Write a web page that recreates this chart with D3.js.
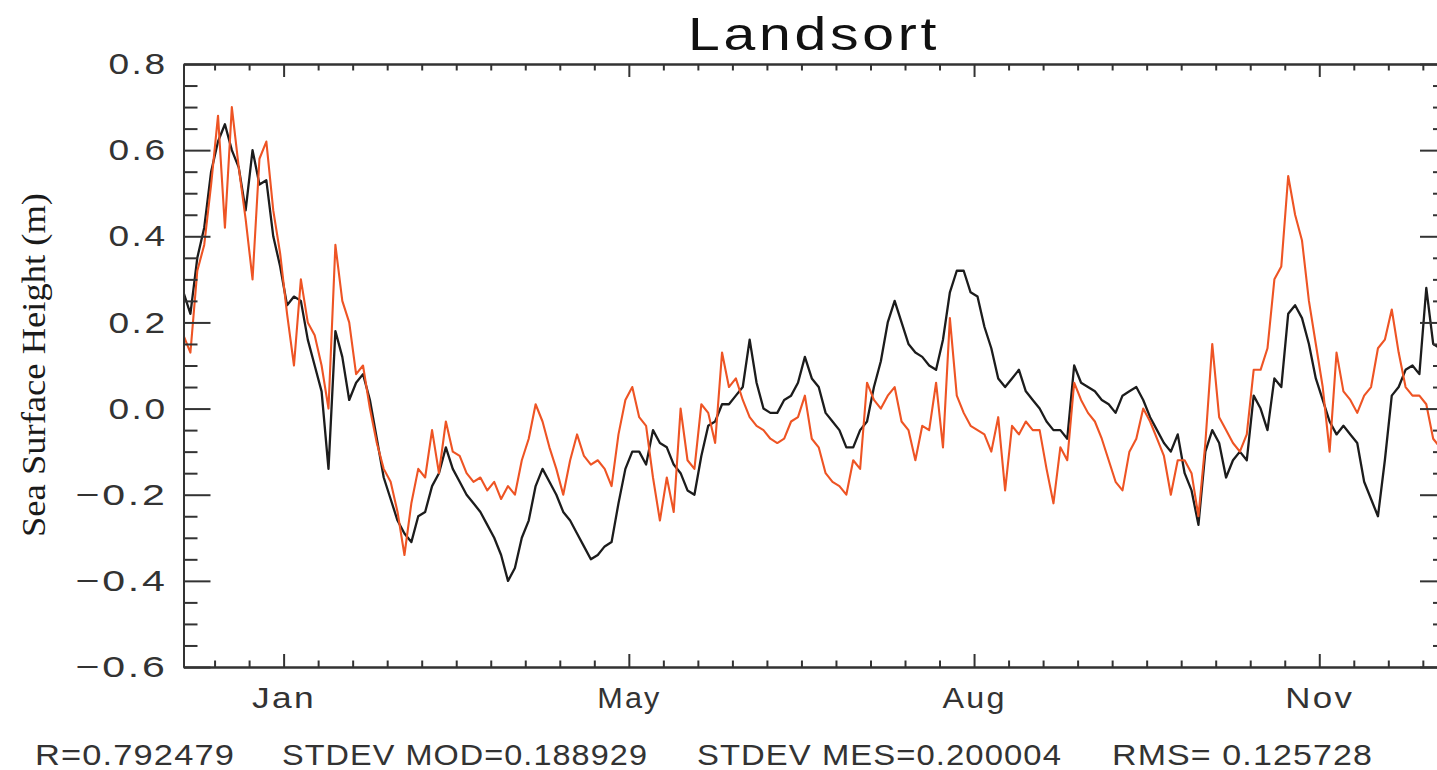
<!DOCTYPE html>
<html>
<head>
<meta charset="utf-8">
<script src="https://cdn.jsdelivr.net/npm/d3@7"></script>
<style>
  body { margin: 0; background: #fff; }
  text { font-family: "Liberation Sans", Arial, sans-serif; fill: #333; }
</style>
</head>
<body>
<svg id="chart" width="1437" height="770"></svg>
<script>
// Series sampled every 2 days from the start of the record
const step = 2;

// black line (model)
const modValues = [
  0.27, 0.22, 0.35, 0.42, 0.55, 0.62, 0.66, 0.60, 0.56, 0.46,
  0.60, 0.52, 0.53, 0.40, 0.33, 0.24, 0.26, 0.25, 0.16, 0.10,
  0.04, -0.14, 0.18, 0.12, 0.02, 0.06, 0.08, 0.02, -0.07, -0.16,
  -0.21, -0.26, -0.29, -0.31, -0.25, -0.24, -0.18, -0.15, -0.09, -0.14,
  -0.17, -0.20, -0.22, -0.24, -0.27, -0.30, -0.34, -0.40, -0.37, -0.30,
  -0.26, -0.18, -0.14, -0.17, -0.20, -0.24, -0.26, -0.29, -0.32, -0.35,
  -0.34, -0.32, -0.31, -0.22, -0.14, -0.10, -0.10, -0.13, -0.05, -0.08,
  -0.09, -0.13, -0.15, -0.19, -0.20, -0.11, -0.04, -0.03, 0.01, 0.01,
  0.03, 0.05, 0.16, 0.06, 0.00, -0.01, -0.01, 0.02, 0.03, 0.06,
  0.12, 0.07, 0.05, -0.01, -0.03, -0.05, -0.09, -0.09, -0.05, -0.03,
  0.05, 0.11, 0.20, 0.25, 0.20, 0.15, 0.13, 0.12, 0.10, 0.09,
  0.16, 0.27, 0.32, 0.32, 0.27, 0.26, 0.19, 0.14, 0.07, 0.05,
  0.07, 0.09, 0.04, 0.02, 0.00, -0.03, -0.05, -0.05, -0.07, 0.10,
  0.06, 0.05, 0.04, 0.02, 0.01, -0.01, 0.03, 0.04, 0.05, 0.02,
  -0.02, -0.05, -0.08, -0.10, -0.06, -0.15, -0.19, -0.27, -0.10, -0.05,
  -0.08, -0.16, -0.12, -0.10, -0.12, 0.03, 0.00, -0.05, 0.07, 0.05,
  0.22, 0.24, 0.21, 0.15, 0.07, 0.02, -0.03, -0.06, -0.04, -0.06,
  -0.08, -0.17, -0.21, -0.25, -0.12, 0.03, 0.05, 0.09, 0.10, 0.08,
  0.28, 0.15, 0.14
];

// red line (measurements)
const mesValues = [
  0.17, 0.13, 0.32, 0.38, 0.52, 0.68, 0.42, 0.70, 0.56, 0.44,
  0.30, 0.58, 0.62, 0.46, 0.36, 0.22, 0.10, 0.30, 0.20, 0.17,
  0.10, 0.00, 0.38, 0.25, 0.20, 0.08, 0.10, 0.00, -0.08, -0.14,
  -0.17, -0.24, -0.34, -0.22, -0.14, -0.16, -0.05, -0.15, -0.03, -0.10,
  -0.11, -0.15, -0.17, -0.16, -0.19, -0.17, -0.21, -0.18, -0.20, -0.12,
  -0.07, 0.01, -0.03, -0.09, -0.14, -0.20, -0.12, -0.06, -0.11, -0.13,
  -0.12, -0.14, -0.18, -0.06, 0.02, 0.05, -0.02, -0.04, -0.16, -0.26,
  -0.16, -0.24, 0.00, -0.12, -0.14, 0.01, -0.01, -0.08, 0.13, 0.05,
  0.07, 0.02, -0.02, -0.04, -0.05, -0.07, -0.08, -0.07, -0.03, -0.02,
  0.03, -0.07, -0.09, -0.15, -0.17, -0.18, -0.20, -0.12, -0.14, 0.06,
  0.02, 0.00, 0.03, 0.05, -0.03, -0.05, -0.12, -0.04, -0.05, 0.06,
  -0.09, 0.21, 0.03, -0.01, -0.04, -0.05, -0.06, -0.10, -0.02, -0.19,
  -0.04, -0.06, -0.03, -0.05, -0.05, -0.14, -0.22, -0.09, -0.12, 0.06,
  0.02, -0.01, -0.03, -0.07, -0.12, -0.17, -0.19, -0.10, -0.07, 0.00,
  -0.03, -0.07, -0.11, -0.20, -0.12, -0.12, -0.15, -0.25, -0.08, 0.15,
  -0.02, -0.05, -0.08, -0.10, -0.06, 0.09, 0.09, 0.14, 0.30, 0.33,
  0.54, 0.45, 0.39, 0.25, 0.15, 0.05, -0.10, 0.13, 0.04, 0.02,
  -0.01, 0.03, 0.05, 0.14, 0.16, 0.23, 0.13, 0.05, 0.03, 0.03,
  0.01, -0.07, -0.09
];

// axis ticks and labels
const monthTicks = [29, 129, 229, 329];
const monthLabels = ["Jan", "May", "Aug", "Nov"];
const yMajor = [0.8, 0.6, 0.4, 0.2, 0.0, -0.2, -0.4, -0.6];
const statLabels = ["R=0.792479", "STDEV MOD=0.188929", "STDEV MES=0.200004", "RMS= 0.125728"];
const titleText = "Landsort";
const yTitle = "Sea Surface Height (m)";

const svg = d3.select("#chart");
const plotLeft = 183.5, plotRight = 1447, plotTop = 64, plotBottom = 667;

const x = d3.scaleLinear().domain([0, 366]).range([plotLeft, plotRight]);
const y = d3.scaleLinear().domain([-0.6, 0.8]).range([plotBottom, plotTop]);

const yMinor = d3.range(-0.6, 0.8001, 0.05).filter(v => Math.abs(Math.round(v * 5) - v * 5) > 1e-6);
const xMinor = d3.range(9, 366, 10).filter(d => !monthTicks.includes(d));

// clip for the data lines
svg.append("defs").append("clipPath").attr("id", "plot")
    .append("rect")
    .attr("x", plotLeft).attr("y", plotTop)
    .attr("width", plotRight - plotLeft).attr("height", plotBottom - plotTop);

const line = d3.line()
    .x((d, i) => x(i * step))
    .y(d => y(d));

const plot = svg.append("g").attr("clip-path", "url(#plot)");

plot.append("path")
    .datum(modValues)
    .attr("fill", "none")
    .attr("stroke", "#1c1c1c")
    .attr("stroke-width", 2.3)
    .attr("stroke-linejoin", "round")
    .attr("d", line);

plot.append("path")
    .datum(mesValues)
    .attr("fill", "none")
    .attr("stroke", "#ee5424")
    .attr("stroke-width", 2.1)
    .attr("stroke-linejoin", "round")
    .attr("d", line);

// axes, ticks pointing inward
function styleAxis(g) {
    g.selectAll("path, line").attr("stroke", "#333").attr("stroke-width", 2);
    g.selectAll("text").attr("fill", "#333").style("font-size", "30px")
        .style("letter-spacing", "2px")
        .style("font-family", "'Liberation Sans', Arial, sans-serif");
}

const labelWidth = s => d3.sum(s.split(""), c => c === "." ? 15 : c === "\u2212" ? 33 : 22);

svg.append("g")
    .attr("transform", `translate(${plotLeft},0)`)
    .call(d3.axisLeft(y).tickValues(yMajor).tickSize(-27).tickSizeOuter(0).tickPadding(16)
        .tickFormat(d3.format(".1f")))
    .call(styleAxis)
    .call(g => g.selectAll("text")
        .attr("textLength", function() { return labelWidth(this.textContent); })
        .attr("lengthAdjust", "spacingAndGlyphs"));

svg.append("g")
    .attr("transform", `translate(${plotLeft},0)`)
    .call(d3.axisLeft(y).tickValues(yMinor).tickSize(-14).tickSizeOuter(0).tickFormat(""))
    .call(styleAxis);

svg.append("g")
    .attr("transform", `translate(${plotRight},0)`)
    .call(d3.axisRight(y).tickValues(yMajor).tickSize(-27).tickSizeOuter(0).tickFormat(""))
    .call(styleAxis);

svg.append("g")
    .attr("transform", `translate(${plotRight},0)`)
    .call(d3.axisRight(y).tickValues(yMinor).tickSize(-14).tickSizeOuter(0).tickFormat(""))
    .call(styleAxis);

svg.append("g")
    .attr("transform", `translate(0,${plotBottom})`)
    .call(d3.axisBottom(x).tickValues(monthTicks).tickSize(-13).tickSizeOuter(0).tickPadding(20)
        .tickFormat((d, i) => monthLabels[i]))
    .call(styleAxis)
    .call(g => g.selectAll("text")
        .attr("textLength", (d, i) => monthLabels[i] === "Nov" ? 69 : 64)
        .attr("lengthAdjust", "spacingAndGlyphs"));

svg.append("g")
    .attr("transform", `translate(0,${plotBottom})`)
    .call(d3.axisBottom(x).tickValues(xMinor).tickSize(-6.5).tickSizeOuter(0).tickFormat(""))
    .call(styleAxis);

svg.append("g")
    .attr("transform", `translate(0,${plotTop})`)
    .call(d3.axisTop(x).tickValues(monthTicks).tickSize(-13).tickSizeOuter(0).tickFormat(""))
    .call(styleAxis);

svg.append("g")
    .attr("transform", `translate(0,${plotTop})`)
    .call(d3.axisTop(x).tickValues(xMinor).tickSize(-6.5).tickSizeOuter(0).tickFormat(""))
    .call(styleAxis);

// title
svg.append("text")
    .attr("x", 814).attr("y", 50)
    .attr("text-anchor", "middle")
    .attr("textLength", 252).attr("lengthAdjust", "spacingAndGlyphs")
    .style("font-size", "46px").style("letter-spacing", "3px").style("fill", "#111")
    .text(titleText);

// y axis title
svg.append("text")
    .attr("transform", "translate(45,365) rotate(-90)")
    .attr("text-anchor", "middle")
    .attr("textLength", 344).attr("lengthAdjust", "spacingAndGlyphs")
    .style("font-family", "'Liberation Serif', 'Times New Roman', serif")
    .style("font-size", "33px").style("fill", "#1a1a1a")
    .text(yTitle);

// statistics line
const statX = [35, 282, 697, 1112];
const statW = [200, 366, 365, 261];
svg.append("g").selectAll("text")
    .data(statLabels)
    .enter()
    .append("text")
    .attr("x", (d, i) => statX[i])
    .attr("y", 765)
    .attr("textLength", (d, i) => statW[i])
    .attr("lengthAdjust", "spacingAndGlyphs")
    .style("font-size", "30px")
    .style("letter-spacing", "1px")
    .text(d => d);
</script>
</body>
</html>
